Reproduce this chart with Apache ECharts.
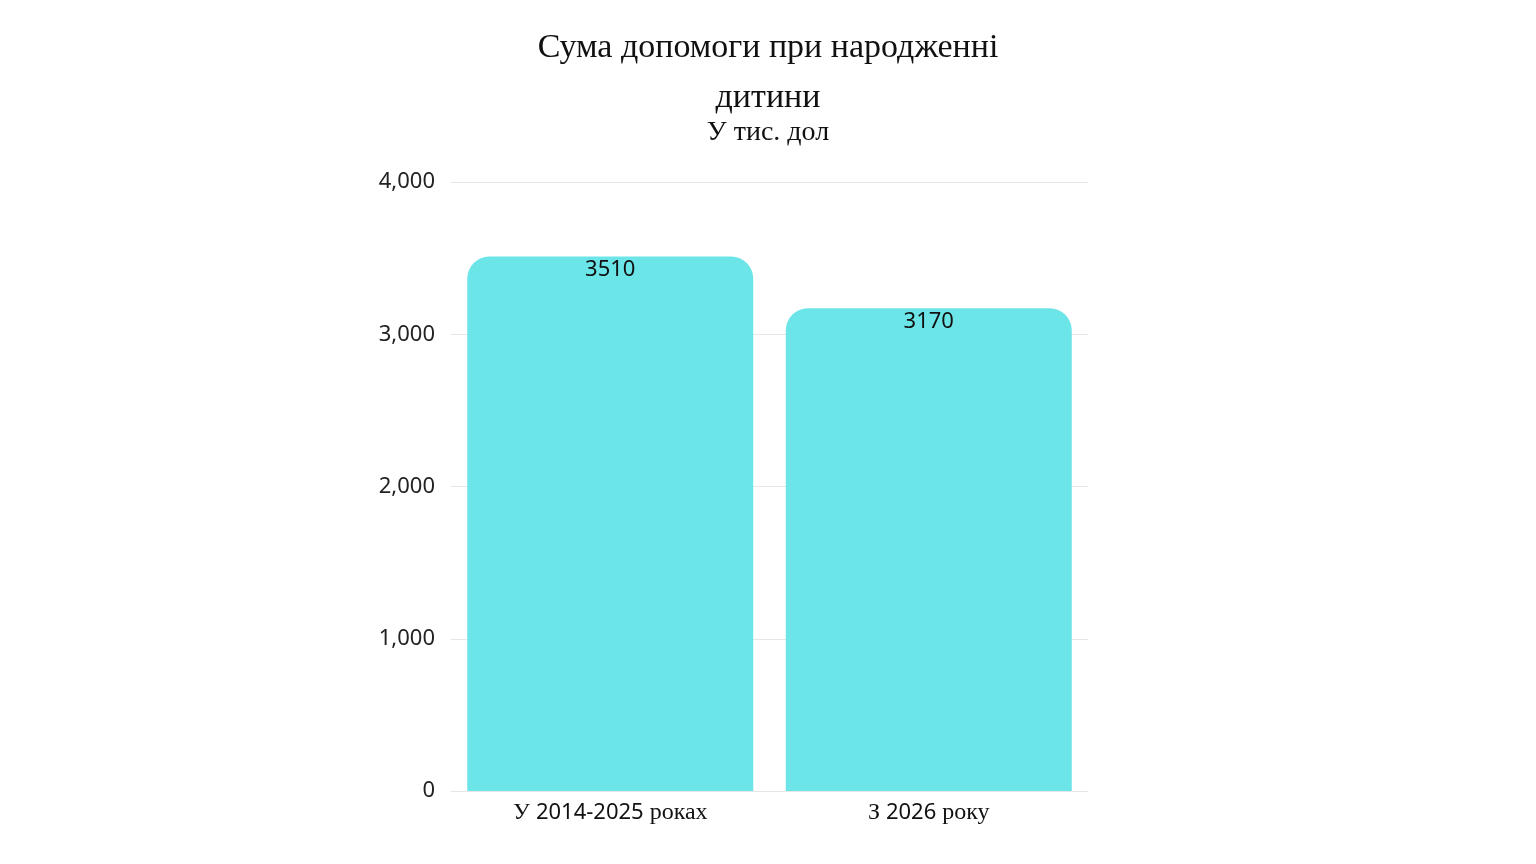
<!DOCTYPE html>
<html><head><meta charset="utf-8">
<script src="https://cdn.jsdelivr.net/npm/echarts@6/dist/echarts.min.js"></script>
<style>html,body{margin:0;background:#fff}#c{width:1536px;height:864px}</style>
</head><body><div id="c"></div>
<script>
const categories = ['У 2014-2025 роках', 'З 2026 року'];
const values = [3510, 3170];
const yTicks = [0, 1000, 2000, 3000, 4000];

const chart = echarts.init(document.getElementById('c'));
chart.setOption({
  backgroundColor: '#fff',
  title: [
    { text: 'Сума допомоги при народженні\nдитини', left: 'center', top: 18,
      textStyle: { fontFamily: 'Liberation Serif', fontSize: 34, fontWeight: 'normal', color: '#111', lineHeight: 50 } },
    { text: 'У тис. дол', left: 'center', top: 114,
      textStyle: { fontFamily: 'Liberation Serif', fontSize: 28, fontWeight: 'normal', color: '#111' } }
  ],
  grid: { left: 451, right: 448, top: 182, bottom: 73 },
  xAxis: {
    type: 'category', data: categories,
    axisLine: { show: false }, axisTick: { show: false },
    axisLabel: {
      margin: 10,
      formatter: v => {
        const m = v.match(/^(\S+ )(\S+)( .+)$/);
        return '{s|' + m[1] + '}{n|' + m[2] + '}{s|' + m[3] + '}';
      },
      rich: {
        s: { fontFamily: 'Liberation Serif', fontSize: 24, color: '#111' },
        n: { fontFamily: 'Noto Sans', fontSize: 22, color: '#111' }
      }
    }
  },
  yAxis: {
    type: 'value', min: yTicks[0], max: yTicks[yTicks.length - 1], interval: 1000,
    axisLine: { show: false }, axisTick: { show: false },
    axisLabel: { fontFamily: 'Noto Sans', fontSize: 22, color: '#222', margin: 16 },
    splitLine: { lineStyle: { color: '#e6e6e6', width: 1 } }
  },
  series: [{
    type: 'bar', data: values, barWidth: 286,
    itemStyle: { color: '#6ce5e8', borderRadius: [22, 22, 0, 0] },
    label: { show: true, position: 'insideTop', distance: 2, fontFamily: 'Noto Sans', fontSize: 22, color: '#111' }
  }]
});
</script></body></html>
